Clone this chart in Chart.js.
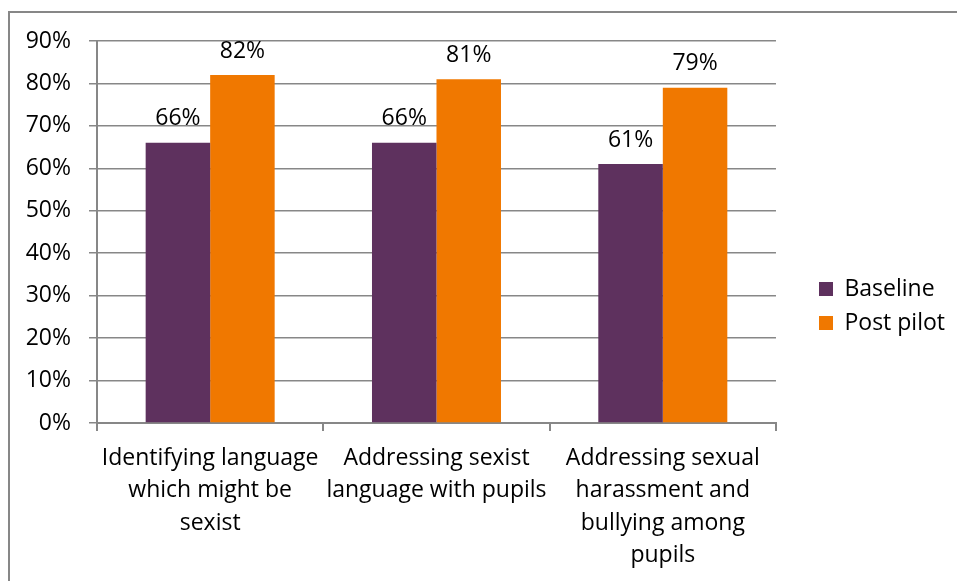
<!DOCTYPE html>
<html lang="en">
<head>
    <meta charset="UTF-8">
    <title>Pupil attitudes survey</title>
    <script src="https://cdn.jsdelivr.net/npm/chart.js"></script>
    <style>
        body { margin: 0; background: #fff; }
        #frame {
            position: absolute; left: 8px; top: 11px; width: 980px; height: 600px;
            border-left: 2px solid #878787; border-top: 2px solid #878787;
        }
        #surveyChart { position: absolute; left: 0; top: 0; }
    </style>
</head>
<body>
    <div id="frame"></div>
    <canvas id="surveyChart" width="957" height="581"></canvas>

    <script>
        const categories = [
            ["Identifying language", "which might be", "sexist"],
            ["Addressing sexist", "language with pupils"],
            ["Addressing sexual", "harassment and", "bullying among", "pupils"]
        ];
        const baseline = [66, 66, 61];
        const postPilot = [82, 81, 79];
        const yTicks = [0, 10, 20, 30, 40, 50, 60, 70, 80, 90];

        const FONT = "'Open Sans', sans-serif";
        const AXIS_GREY = "#878787";

        // value labels above each bar
        const barValues = {
            id: "barValues",
            afterDatasetsDraw(chart) {
                const ctx = chart.ctx;
                ctx.save();
                ctx.font = "23px " + FONT;
                ctx.fillStyle = "#000";
                ctx.textAlign = "center";
                ctx.textBaseline = "middle";
                chart.data.datasets.forEach((ds, i) => {
                    chart.getDatasetMeta(i).data.forEach((bar, j) => {
                        ctx.fillText(ds.data[j] + "%", bar.x, bar.y - 24);
                    });
                });
                ctx.restore();
            }
        };

        // push the legend a little away from the plot
        const legendOffset = {
            id: "legendOffset",
            afterLayout(chart) {
                chart.legend.left += 32;
                chart.legend.right += 32;
            }
        };

        const ctx = document.getElementById("surveyChart").getContext("2d");
        new Chart(ctx, {
            type: "bar",
            data: {
                labels: categories,
                datasets: [
                    { label: "Baseline", data: baseline, backgroundColor: "#5E315E" },
                    { label: "Post pilot", data: postPilot, backgroundColor: "#F07800" }
                ]
            },
            options: {
                responsive: false,
                animation: false,
                layout: { padding: { left: 0, top: 41, right: 34, bottom: 10 } },
                datasets: {
                    bar: { barPercentage: 1, categoryPercentage: 0.57 }
                },
                plugins: {
                    legend: {
                        position: "right",
                        labels: {
                            boxWidth: 14,
                            boxHeight: 14,
                            padding: 11,
                            color: "#000",
                            font: { family: FONT, size: 23 }
                        }
                    },
                    tooltip: { enabled: false }
                },
                scales: {
                    x: {
                        grid: {
                            drawOnChartArea: false,
                            drawTicks: true,
                            tickLength: 8,
                            color: AXIS_GREY,
                            lineWidth: 2
                        },
                        border: { display: true, color: AXIS_GREY, width: 2 },
                        ticks: {
                            color: "#000",
                            padding: 11,
                            maxRotation: 0,
                            autoSkip: false,
                            font: { family: FONT, size: 23, lineHeight: 1.41 }
                        },
                        afterFit(scale) { scale.height = 148; }
                    },
                    y: {
                        min: 0,
                        max: 90,
                        afterBuildTicks(scale) {
                            scale.ticks = yTicks.map(v => ({ value: v }));
                        },
                        grid: {
                            color: AXIS_GREY,
                            lineWidth: 1.5,
                            tickLength: 8
                        },
                        border: { display: true, color: AXIS_GREY, width: 2 },
                        ticks: {
                            color: "#000",
                            padding: 18,
                            font: { family: FONT, size: 23 },
                            callback: v => v + "%"
                        },
                        afterFit(scale) { scale.width = 97; }
                    }
                }
            },
            plugins: [barValues, legendOffset]
        });
    </script>
</body>
</html>
